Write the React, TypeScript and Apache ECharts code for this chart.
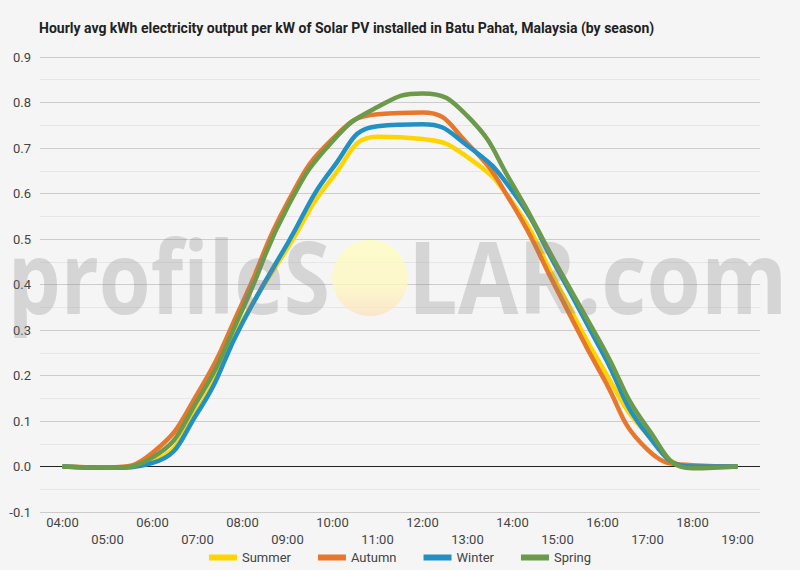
import React, { useEffect, useRef } from "react";
import * as echarts from "echarts";

const hours = ["04:00","05:00","06:00","07:00","08:00","09:00","10:00","11:00","12:00","13:00","14:00","15:00","16:00","17:00","18:00","19:00"];
const summer = [0, -0.002, 0.012, 0.125, 0.32, 0.48, 0.635, 0.725, 0.72, 0.68, 0.58, 0.40, 0.217, 0.07, 0.0, 0.0];
const autumn = [0, -0.002, 0.03, 0.16, 0.36, 0.58, 0.72, 0.774, 0.778, 0.71, 0.576, 0.386, 0.198, 0.037, 0.003, 0.0];
const winter = [0, -0.003, 0.008, 0.118, 0.316, 0.49, 0.655, 0.748, 0.752, 0.705, 0.605, 0.433, 0.25, 0.07, 0.0, 0.0];
const spring = [0, -0.003, 0.02, 0.145, 0.345, 0.57, 0.715, 0.79, 0.82, 0.77, 0.62, 0.44, 0.264, 0.085, -0.004, 0.0];

const seriesNames = ["Summer", "Autumn", "Winter", "Spring"];
const seriesColors = ["#FFD400", "#E8772E", "#2191C4", "#6A9A4A"];
const seriesData = [summer, autumn, winter, spring];

const titleText = "Hourly avg kWh electricity output per kW of Solar PV installed in Batu Pahat, Malaysia (by season)";

export default function App() {
  const ref = useRef<HTMLDivElement>(null);
  useEffect(() => {
    if (!ref.current) return;
    const chart = echarts.init(ref.current, null, { renderer: "svg" });
    const font = "Roboto, 'Noto Sans', sans-serif";
    const wmFont = "700 101px 'Open Sans', sans-serif";
    const wmFill = "rgba(128,128,128,0.27)";
    chart.setOption({
      animation: false,
      backgroundColor: "#F5F5F5",
      textStyle: { fontFamily: font },
      title: {
        text: titleText,
        left: 34,
        top: 16,
        textStyle: { fontSize: 14, fontWeight: "bold", color: "#222", fontFamily: font },
      },
      grid: { left: 40, right: 40, top: 57, bottom: 58 },
      legend: {
        bottom: 1,
        left: "center",
        icon: "rect",
        itemWidth: 28,
        itemHeight: 6,
        itemGap: 27,
        textStyle: { fontSize: 13, color: "#444" },
        data: seriesNames,
      },
      xAxis: {
        type: "category",
        data: hours,
        boundaryGap: true,
        axisLine: { show: false },
        axisTick: { show: false },
        splitLine: { show: false },
        axisLabel: {
          interval: 0,
          margin: 2,
          fontSize: 13,
          color: "#444",
          lineHeight: 17,
          formatter: (v: string, i: number) => (i % 2 === 1 ? "\n" + v : v),
        },
      },
      yAxis: {
        type: "value",
        min: -0.1,
        max: 0.9,
        interval: 0.1,
        axisLine: { show: false },
        axisTick: { show: false },
        axisLabel: {
          fontSize: 13,
          color: "#444",
          margin: 9,
          formatter: (v: number) => v.toFixed(1),
        },
        splitLine: { lineStyle: { color: "#CCCCCC", width: 1 } },
        minorTick: { show: false, splitNumber: 2 },
        minorSplitLine: { show: true, lineStyle: { color: "#E6E6E6", width: 1 } },
      },
      series: seriesNames.map((name, i) => ({
        name,
        type: "line",
        data: seriesData[i],
        smooth: 0.5,
        showSymbol: false,
        symbol: "none",
        lineStyle: { color: seriesColors[i], width: 4.5 },
        itemStyle: { color: seriesColors[i] },
        z: 3 + i,
        markLine:
          i === 0
            ? {
                silent: true,
                symbol: "none",
                label: { show: false },
                lineStyle: { color: "#222", width: 1, type: "solid" },
                data: [{ yAxis: 0 }],
                z: 1,
              }
            : undefined,
      })),
      graphic: [
        {
          type: "circle",
          shape: { cx: 370, cy: 278, r: 38 },
          z: 100,
          silent: true,
          style: {
            fill: new echarts.graphic.LinearGradient(0, 0, 0, 1, [
              { offset: 0, color: "rgba(255,252,190,0.75)" },
              { offset: 0.6, color: "rgba(255,248,190,0.75)" },
              { offset: 1, color: "rgba(252,225,190,0.75)" },
            ]),
          },
        },
        {
          type: "text",
          z: 100,
          silent: true,
          x: 330,
          y: 275,
          scaleX: 0.83,
          style: {
            text: "profileS",
            align: "right",
            verticalAlign: "middle",
            font: wmFont,
            fill: wmFill,
          },
        },
        {
          type: "text",
          z: 100,
          silent: true,
          x: 408,
          y: 275,
          scaleX: 0.87,
          style: {
            text: "LAR.com",
            align: "left",
            verticalAlign: "middle",
            font: wmFont,
            fill: wmFill,
          },
        },
      ],
    });
    return () => chart.dispose();
  }, []);
  return <div ref={ref} style={{ position: "fixed", left: 0, top: 0, width: 800, height: 570 }} />;
}
